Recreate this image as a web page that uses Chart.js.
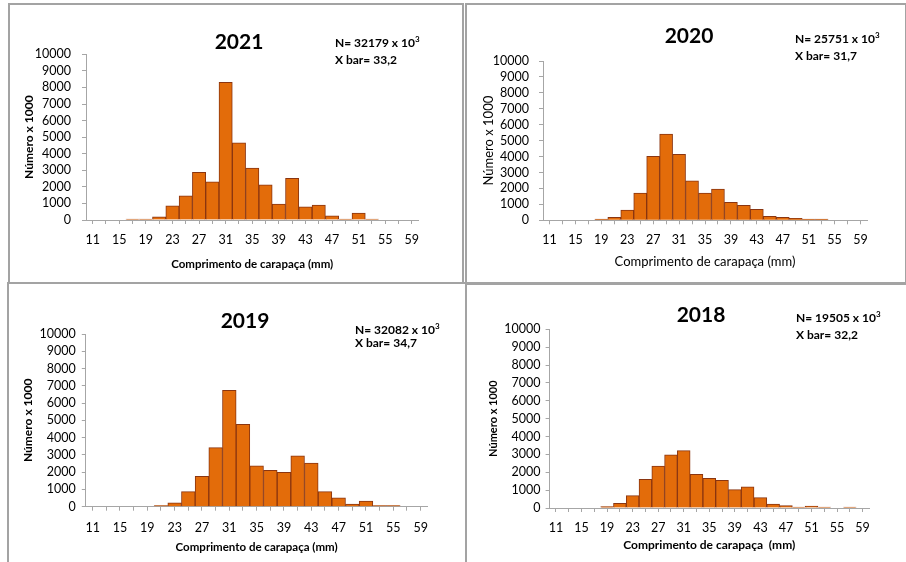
<!DOCTYPE html>
<html>
<head>
<meta charset="utf-8">
<script src="https://cdn.jsdelivr.net/npm/chart.js@4/dist/chart.umd.min.js"></script>
<style>
  html, body { margin: 0; padding: 0; background: #fff; }
  body { width: 906px; height: 562px; position: relative; overflow: hidden; font-family: Lato, sans-serif; }
  .panel { position: absolute; }
  .box { position: absolute; border: 2px solid #a3a3a3; box-sizing: border-box; pointer-events: none; }
  .year { position: absolute; font-weight: bold; font-size: 21px; line-height: 1; transform: translate(-50%, -50%); }
  .note { position: absolute; font-weight: bold; font-size: 12px; line-height: 1; white-space: pre; }
  .note sup { font-size: 8px; vertical-align: 5px; line-height: 0; }
</style>
</head>
<body>
<div class="panel" style="left:0;top:0;width:464px;height:284px"><canvas id="c2021"></canvas></div>
<div class="panel" style="left:464px;top:0;width:442px;height:284px"><canvas id="c2020"></canvas></div>
<div class="panel" style="left:0;top:284px;width:464px;height:278px"><canvas id="c2019"></canvas></div>
<div class="panel" style="left:464px;top:284px;width:442px;height:278px"><canvas id="c2018"></canvas></div>

<div class="box" style="left:8px;top:3px;width:456px;height:281px"></div>
<div class="box" style="left:465px;top:3px;width:442px;height:281px"></div>
<div class="box" style="left:7px;top:282px;width:460px;height:290px"></div>
<div class="box" style="left:465px;top:283px;width:450px;height:290px"></div>

<div class="year" style="left:239px;top:40px">2021</div>
<div class="year" style="left:689px;top:34px">2020</div>
<div class="year" style="left:245px;top:319px">2019</div>
<div class="year" style="left:701px;top:313px">2018</div>

<div class="note" style="left:335px;top:37px">N= 32179 x 10<sup>3</sup></div>
<div class="note" style="left:335px;top:54px">X bar= 33,2</div>
<div class="note" style="left:795px;top:33px">N= 25751 x 10<sup>3</sup></div>
<div class="note" style="left:795px;top:50px">X bar= 31,7</div>
<div class="note" style="left:355px;top:324px">N= 32082 x 10<sup>3</sup></div>
<div class="note" style="left:355px;top:337px">X bar= 34,7</div>
<div class="note" style="left:796px;top:312px">N= 19505 x 10<sup>3</sup></div>
<div class="note" style="left:796px;top:329px">X bar= 32,2</div>

<script>
// classes de comprimento de carapaça (mm)
const classes = [11, 13, 15, 17, 19, 21, 23, 25, 27, 29, 31, 33, 35, 37, 39, 41, 43, 45, 47, 49, 51, 53, 55, 57, 59];
const yTicks = [0, 1000, 2000, 3000, 4000, 5000, 6000, 7000, 8000, 9000, 10000];

// número x 1000 por classe
const n2021 = [0, 0, 0, 60, 60, 190, 860, 1460, 2870, 2310, 8310, 4650, 3130, 2130, 960, 2510, 800, 900, 250, 60, 420, 60, 0, 0, 0];
const n2020 = [0, 0, 0, 0, 70, 190, 640, 1710, 4020, 5420, 4140, 2480, 1710, 1960, 1130, 940, 690, 250, 190, 125, 70, 70, 0, 0, 0];
const n2019 = [0, 0, 0, 0, 0, 60, 230, 870, 1760, 3420, 6740, 4770, 2360, 2100, 1990, 2950, 2530, 870, 520, 150, 330, 60, 60, 0, 0];
const n2018 = [0, 0, 0, 0, 75, 260, 690, 1600, 2350, 2970, 3210, 1880, 1660, 1550, 1030, 1190, 580, 220, 130, 55, 110, 55, 0, 55, 0];

const xTitle = "Comprimento de carapaça (mm)";
const xTitle2018 = "Comprimento de carapaça  (mm)";
const yTitle = "Número x 1000";

Chart.defaults.font.family = "Lato, sans-serif";
Chart.defaults.color = "#000";

function drawHistogram(id, values, g) {
  new Chart(document.getElementById(id), {
    type: "bar",
    data: {
      labels: classes.map(String),
      datasets: [{
        data: values,
        backgroundColor: "#e36c0a",
        borderColor: "#8a3510",
        borderWidth: 1,
        categoryPercentage: 1,
        barPercentage: 1,
      }],
    },
    options: {
      responsive: true,
      maintainAspectRatio: false,
      animation: false,
      layout: { padding: g.pad },
      plugins: { legend: { display: false }, tooltip: { enabled: false } },
      scales: {
        x: {
          afterFit: (s) => { s.height = g.xh; },
          grid: { offset: false, drawOnChartArea: false, tickLength: 4, color: "#a6a6a6" },
          border: { color: "#a6a6a6", width: 1 },
          ticks: {
            autoSkip: false,
            maxRotation: 0,
            padding: g.xpad,
            font: { size: 12.5 },
            callback: (v, i) => (i % 2 === 0 ? classes[i] : ""),
          },
          title: {
            display: true,
            text: g.xtext,
            padding: 0,
            font: { size: g.xfs, weight: g.bold ? "bold" : "normal" },
          },
        },
        y: {
          min: yTicks[0],
          max: yTicks[yTicks.length - 1],
          afterFit: (s) => { s.width = g.yw; },
          afterBuildTicks: (s) => { s.ticks = yTicks.map((v) => ({ value: v })); },
          grid: { drawOnChartArea: false, tickLength: 4, color: "#a6a6a6" },
          border: { color: "#a6a6a6", width: 1 },
          ticks: {
            autoSkip: false,
            padding: g.ypad,
            font: { size: 12.5 },
            callback: (v) => String(v),
          },
          title: {
            display: true,
            text: yTitle,
            padding: 0,
            font: { size: g.yfs, weight: g.bold ? "bold" : "normal" },
          },
        },
      },
    },
  });
}

drawHistogram("c2021", n2021, {
  pad: { left: 22.4, right: 45.5, top: 54.3, bottom: 12.4 }, yw: 63.6, xh: 51.6,
  ypad: 11, xpad: 8, xfs: 11.5, yfs: 12, bold: true, xtext: xTitle,
});
drawHistogram("c2020", n2020, {
  pad: { left: 17.2, right: 39, top: 61, bottom: 14.2 }, yw: 61.8, xh: 49.5,
  ypad: 10, xpad: 8, xfs: 13, yfs: 13, bold: false, xtext: xTitle,
});
drawHistogram("c2019", n2019, {
  pad: { left: 20.8, right: 36.5, top: 50, bottom: 8.1 }, yw: 65, xh: 47.2,
  ypad: 6, xpad: 10, xfs: 11.5, yfs: 12, bold: true, xtext: xTitle,
});
drawHistogram("c2018", n2018, {
  pad: { left: 22.4, right: 37, top: 45.3, bottom: 9.8 }, yw: 63.2, xh: 44.2,
  ypad: 5, xpad: 8, xfs: 12, yfs: 11, bold: true, xtext: xTitle2018,
});
</script>
</body>
</html>
